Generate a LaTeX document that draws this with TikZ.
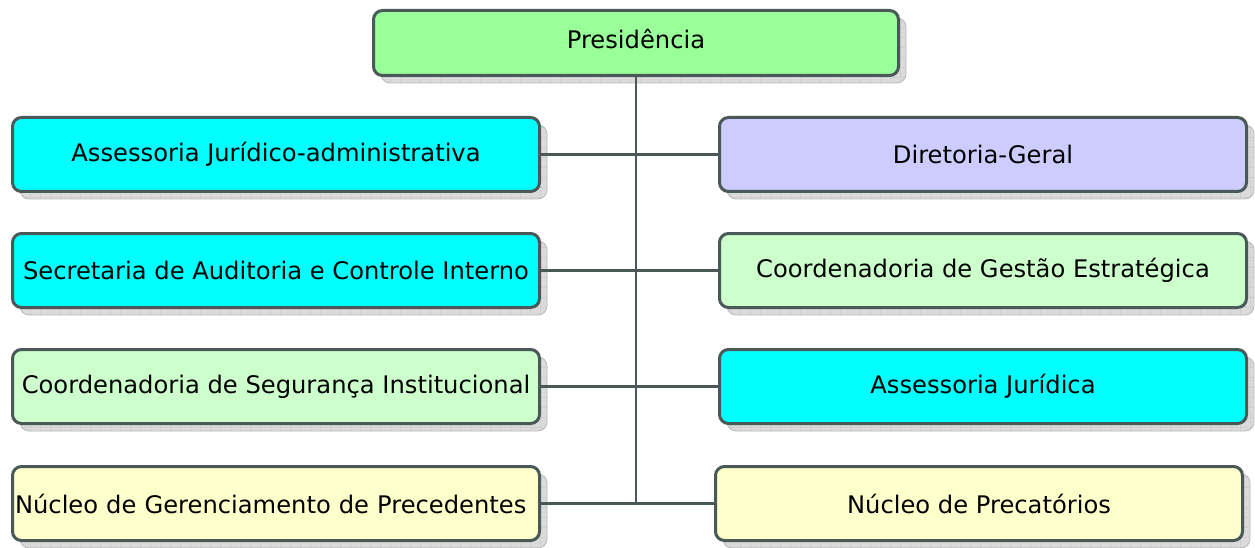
\documentclass[tikz,border=0pt]{standalone}
\usepackage{fontspec}
\setmainfont{DejaVu Sans}
\usetikzlibrary{patterns}
\pgfdeclarepatternformonly{shadowgrid}{\pgfpointorigin}{\pgfpoint{10pt}{10pt}}{\pgfpoint{10pt}{10pt}}{%
  \pgfsetlinewidth{0.8pt}%
  \pgfpathmoveto{\pgfpointorigin}\pgfpathlineto{\pgfpoint{10pt}{0pt}}%
  \pgfpathmoveto{\pgfpointorigin}\pgfpathlineto{\pgfpoint{0pt}{10pt}}%
  \pgfusepath{stroke}}
\definecolor{bordc}{HTML}{4A5858}
\definecolor{cgreen}{HTML}{99FF99}
\definecolor{ccyan}{HTML}{00FFFF}
\definecolor{clav}{HTML}{CCCCFF}
\definecolor{clgreen}{HTML}{CCFFCC}
\definecolor{cyel}{HTML}{FFFFCC}
\tikzset{
  unit/.style={x=1pt,y=-1pt},
  orgbox/.style={draw=bordc, line width=3pt, rounded corners=9pt, minimum width=527pt, minimum height=74pt, inner sep=0pt, outer sep=0pt, font=\fontsize{24.2}{29}\selectfont, anchor=north west,
    preaction={fill=gray!28, draw=gray!55, line width=0.8pt, transform canvas={shift={(7.5pt,-7.5pt)}}},
    preaction={pattern=shadowgrid, pattern color=gray!55, transform canvas={shift={(7.5pt,-7.5pt)}}}},
  topbox/.style={orgbox, minimum width=525pt, minimum height=65pt},
  link/.style={draw=bordc, line width=2.5pt}
}
\begin{document}
\begin{tikzpicture}[unit]
\useasboundingbox (0,0) rectangle (1255,548);
\node[topbox, fill=cgreen, text depth=9pt] (pres) at (373.5,10.5) {Presidência};
\node[orgbox, fill=ccyan] (l1) at (12.5,117.5) {Assessoria Jurídico-administrativa};
\node[orgbox, fill=ccyan] (l2) at (12.5,233.5) {Secretaria de Auditoria e Controle Interno};
\node[orgbox, fill=clgreen] (l3) at (12.5,349.5) {Coordenadoria de Segurança Institucional};
\node[orgbox, fill=cyel, text width=522pt, align=left] (l4) at (12.5,466.5) {Núcleo de Gerenciamento de Precedentes};
\node[orgbox, fill=clav] (r1) at (719.5,117.5) {Diretoria-Geral};
\node[orgbox, fill=clgreen] (r2) at (719.5,233.5) {Coordenadoria de Gestão Estratégica};
\node[orgbox, fill=ccyan] (r3) at (719.5,349.5) {Assessoria Jurídica};
\node[orgbox, fill=cyel] (r4) at (715.5,466.5) {Núcleo de Precatórios};
\coordinate (trunk) at (636,503.5);
\draw[link] (pres.south -| trunk) -- (trunk);
\draw[link] (l1.east) -- (r1.west);
\draw[link] (l2.east) -- (r2.west);
\draw[link] (l3.east) -- (r3.west);
\draw[link] (l4.east) -- (r4.west);
\end{tikzpicture}
\end{document}
